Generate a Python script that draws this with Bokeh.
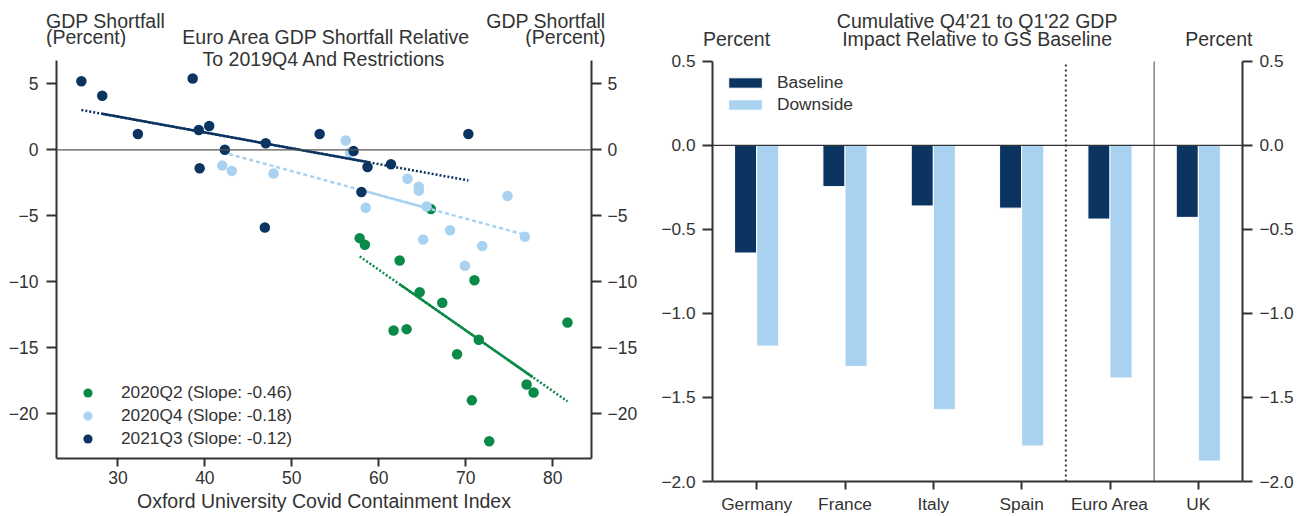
import numpy as np
from bokeh.plotting import figure
from bokeh.layouts import row, column
from bokeh.models import (Range1d, FactorRange, FixedTicker, LinearAxis, CustomJSTickFormatter,
                          Span, Label, Legend, LegendItem, ColumnDataSource)
from bokeh.transform import dodge
from bokeh.embed import file_html
from bokeh.resources import INLINE

FONT = "Liberation Sans"
TXT = "#333333"
NAVY = "#0b3461"
LIGHT = "#a9d2f0"
GREEN = "#0a8a48"

# ---- Left panel: GDP shortfall vs. containment index ----
q2_index = [57.8, 58.4, 66.0, 62.4, 71.0, 64.7, 67.3, 61.7, 63.2, 71.5, 69.0, 81.7, 77.0, 77.8, 70.7, 72.7]
q2_gdp = [-6.7, -7.2, -4.5, -8.4, -9.9, -10.8, -11.6, -13.7, -13.6, -14.4, -15.5, -13.1, -17.8, -18.4, -19.0, -22.1]

q4_index = [42.0, 43.1, 47.9, 56.2, 56.7, 58.5, 63.3, 64.6, 64.6, 65.5, 74.8, 76.8, 68.2, 65.1, 71.9, 69.9]
q4_gdp = [-1.2, -1.6, -1.8, 0.7, -0.2, -4.4, -2.2, -2.8, -3.1, -4.3, -3.5, -6.6, -6.1, -6.8, -7.3, -8.8]

q3_index = [25.8, 28.2, 32.3, 38.6, 39.3, 40.5, 39.4, 42.3, 47.0, 46.9, 53.2, 57.1, 58.7, 61.4, 58.0, 70.3]
q3_gdp = [5.2, 4.1, 1.2, 5.4, 1.5, 1.8, -1.4, 0.0, 0.5, -5.9, 1.2, -0.1, -1.3, -1.1, -3.2, 1.2]

series_names = ["2020Q2", "2020Q4", "2021Q3"]
slopes = [-0.46, -0.18, -0.12]
solid_lo = [62.4, 58.0, 28.2]
solid_hi = [77.7, 65.9, 59.0]

# ---- Right panel: GDP impact ----
countries = ["Germany", "France", "Italy", "Spain", "Euro Area", "UK"]
baseline = [-0.64, -0.245, -0.36, -0.373, -0.438, -0.428]
downside = [-1.194, -1.315, -1.573, -1.789, -1.384, -1.878]

y1_ticks = [-20, -15, -10, -5, 0, 5]
x1_ticks = [30, 40, 50, 60, 70, 80]
y2_ticks = [-2.0, -1.5, -1.0, -0.5, 0.0, 0.5]

MINUS_INT = CustomJSTickFormatter(code="return (tick < 0 ? '\u2212' : '') + Math.abs(tick).toString();")
MINUS_1DP = CustomJSTickFormatter(code="return (tick < -1e-9 ? '\u2212' : '') + Math.abs(tick).toFixed(1);")

W1, W2, H = 640, 662, 516
HEAD_L = 47  # heading strip above the scatter panel
HEAD_R = 50  # heading strip above the bar panel
LIFT = 6.5   # labels anchored "alphabetic" land this many px low; compensate


def style_axis(ax, tick_out, standoff, size="17.5px"):
    ax.axis_line_color = TXT
    ax.axis_line_width = 2
    ax.major_tick_line_color = TXT
    ax.major_tick_line_width = 2
    ax.major_tick_out = tick_out
    ax.major_tick_in = 0
    ax.minor_tick_line_color = None
    ax.major_label_text_font = FONT
    ax.major_label_text_font_size = size
    ax.major_label_text_color = TXT
    ax.major_label_standoff = standoff


def add_text(p, x, y, text, align, size="19.5px"):
    p.add_layout(Label(x=x, y=y, text=text, text_align=align, text_baseline="alphabetic",
                       text_font=FONT, text_font_size=size, text_color=TXT))


def plain(p):
    p.frame_align = False
    p.grid.visible = False
    p.outline_line_color = None
    p.background_fill_color = "white"
    p.border_fill_color = "white"


def heading(width, height):
    # blank strip whose data coordinates are plain pixels (y pointing down)
    h = figure(width=width, height=height, x_range=Range1d(0, width), y_range=Range1d(height, 0),
               output_backend="svg", toolbar_location=None, x_axis_location=None, y_axis_location=None,
               min_border_left=0, min_border_right=0, min_border_top=0, min_border_bottom=0)
    plain(h)
    return h


# ---------------- left figure ----------------
X1 = (22.94, 84.46)
Y1 = (-23.41, 6.77)
L1, R1, T1, B1 = 56, 596, 60, 458


def px1(px):
    return X1[0] + (px - L1) / (R1 - L1) * (X1[1] - X1[0])


def py1(py):
    return Y1[1] - (py - T1) / (B1 - T1) * (Y1[1] - Y1[0])


h1 = heading(W1, HEAD_L)
add_text(h1, 45.5, 26.7 - LIFT, "GDP Shortfall", "left")
add_text(h1, 45.5, 42.7 - LIFT, "(Percent)", "left")
add_text(h1, 605, 26.7 - LIFT, "GDP Shortfall", "right")
add_text(h1, 605, 42.7 - LIFT, "(Percent)", "right")
add_text(h1, 326, 42.7 - LIFT, "Euro Area GDP Shortfall Relative", "center")

# frame starts right under the heading strip; axes stop at the top of the data range
p1 = figure(width=W1, height=H - HEAD_L, x_range=Range1d(*X1), y_range=Range1d(Y1[0], py1(HEAD_L)),
            output_backend="svg", toolbar_location=None,
            min_border_left=L1, min_border_right=W1 - R1, min_border_top=0, min_border_bottom=H - B1)
plain(p1)

p1.yaxis.ticker = FixedTicker(ticks=y1_ticks)
p1.yaxis.formatter = MINUS_INT
p1.yaxis.bounds = Y1
style_axis(p1.yaxis[0], 10, 8)
yr = LinearAxis(ticker=FixedTicker(ticks=y1_ticks), formatter=MINUS_INT, bounds=Y1)
style_axis(yr, 10, 6)
p1.add_layout(yr, "right")

p1.xaxis.ticker = FixedTicker(ticks=x1_ticks)
p1.xaxis.formatter = MINUS_INT
style_axis(p1.xaxis[0], 8, 4)
p1.xaxis.axis_label = "Oxford University Covid Containment Index"
p1.xaxis.axis_label_text_font = FONT
p1.xaxis.axis_label_text_font_size = "19.5px"
p1.xaxis.axis_label_text_font_style = "normal"
p1.xaxis.axis_label_text_color = TXT
p1.xaxis.axis_label_standoff = 3

p1.add_layout(Span(location=0, dimension="width", line_color="#555555", line_width=1.2))

colors = [GREEN, LIGHT, NAVY]
xs_all = [q2_index, q4_index, q3_index]
ys_all = [q2_gdp, q4_gdp, q3_gdp]
dashes = ["2 2", "4 3", "2 2"]
legend_items = []
for name, c, xs, ys, s, lo, hi, dash in zip(series_names, colors, xs_all, ys_all, slopes,
                                            solid_lo, solid_hi, dashes):
    xs_a = np.array(xs)
    ys_a = np.array(ys)
    r = p1.scatter(xs_a, ys_a, size=10.5, fill_color=c, line_color=None)
    intercept = ys_a.mean() - s * xs_a.mean()
    fx = np.array([xs_a.min(), xs_a.max()])
    p1.line(fx, intercept + s * fx, line_color=c, line_width=2.5, line_dash=dash)
    sx = np.array([lo, hi])
    p1.line(sx, intercept + s * sx, line_color=c, line_width=2.5)
    legend_items.append(LegendItem(label=f"{name} (Slope: {s:.2f})", renderers=[r]))

leg1 = Legend(items=legend_items, location=(20, 8), orientation="vertical",
              glyph_width=23, glyph_height=23, label_height=23, spacing=0,
              label_standoff=22, padding=0, margin=0,
              border_line_color=None, background_fill_alpha=0,
              label_text_font=FONT, label_text_font_size="17.3px", label_text_color=TXT)
p1.add_layout(leg1)

add_text(p1, px1(326), py1(65.0 - LIFT), "To 2019Q4 And Restrictions", "center")

# ---------------- right figure ----------------
OFF = W1
Y2 = (-2.0, 0.5)
L2, R2, T2, B2 = 712, 1242, 61, 483


def py2(py):
    return Y2[1] - (py - T2) / (B2 - T2) * (Y2[1] - Y2[0])


h2 = heading(W2, HEAD_R)
add_text(h2, 736 - OFF, 45 - LIFT, "Percent", "center")
add_text(h2, 1218.3 - OFF, 45 - LIFT, "Percent", "center")
add_text(h2, 976.6 - OFF, 26.5 - LIFT, "Cumulative Q4'21 to Q1'22 GDP", "center")
add_text(h2, 976.6 - OFF, 45 - LIFT, "Impact Relative to GS Baseline", "center")

p2 = figure(width=W2, height=H - HEAD_R, x_range=FactorRange(*countries), y_range=Range1d(Y2[0], py2(HEAD_R)),
            output_backend="svg", toolbar_location=None,
            min_border_left=L2 - OFF, min_border_right=OFF + W2 - R2,
            min_border_top=0, min_border_bottom=H - B2)
plain(p2)
p2.x_range.range_padding = 0
p2.x_range.factor_padding = 0

p2.yaxis.ticker = FixedTicker(ticks=y2_ticks)
p2.yaxis.formatter = MINUS_1DP
p2.yaxis.bounds = Y2
style_axis(p2.yaxis[0], 10, 7, "17.3px")
yr2 = LinearAxis(ticker=FixedTicker(ticks=y2_ticks), formatter=MINUS_1DP, bounds=Y2)
style_axis(yr2, 10, 7, "17.3px")
p2.add_layout(yr2, "right")
style_axis(p2.xaxis[0], 8, 4, "17.3px")

src = ColumnDataSource(dict(country=countries, baseline=baseline, downside=downside))
rb = p2.vbar(x=dodge("country", -0.125, range=p2.x_range), top="baseline", bottom=0, width=0.25,
             source=src, fill_color=NAVY, line_color="white", line_width=1)
rd = p2.vbar(x=dodge("country", 0.125, range=p2.x_range), top="downside", bottom=0, width=0.25,
             source=src, fill_color=LIGHT, line_color="white", line_width=1)

p2.add_layout(Span(location=0, dimension="width", line_color=TXT, line_width=1.2))
# separators: euro-area members | euro area | UK
ea = countries.index("Euro Area")
p2.segment(x0=[float(ea)], y0=[Y2[0]], x1=[float(ea)], y1=[Y2[1]],
           line_color=TXT, line_width=2, line_dash="2 3")
p2.segment(x0=[float(ea + 1)], y0=[Y2[0]], x1=[float(ea + 1)], y1=[Y2[1]],
           line_color="#666666", line_width=1.2)

leg2 = Legend(items=[LegendItem(label="Baseline", renderers=[rb]),
                     LegendItem(label="Downside", renderers=[rd])],
              location=(12, 366), orientation="vertical",
              glyph_width=42, glyph_height=13, label_height=22, spacing=0,
              label_standoff=11, padding=0, margin=0,
              border_line_color=None, background_fill_alpha=0,
              label_text_font=FONT, label_text_font_size="17.3px", label_text_color=TXT)
p2.add_layout(leg2)

layout = row(column(h1, p1), column(h2, p2))
open("out.html", "w").write(file_html(layout, INLINE))
